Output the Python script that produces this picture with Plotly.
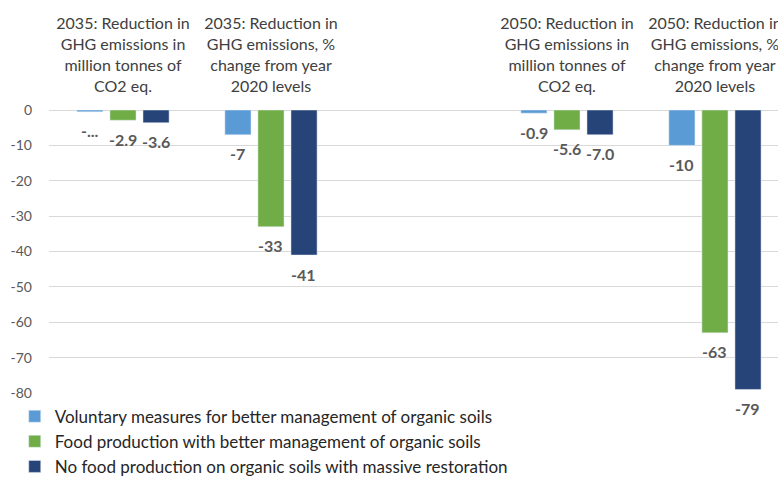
import plotly.graph_objects as go

categories = [
    "2035: Reduction in<br>GHG emissions in<br>million tonnes of<br>CO2 eq.",
    "2035: Reduction in<br>GHG emissions, %<br>change from year<br>2020 levels",
    " ",
    "2050: Reduction in<br>GHG emissions in<br>million tonnes of<br>CO2 eq.",
    "2050: Reduction in<br>GHG emissions, %<br>change from year<br>2020 levels",
]

series_names = [
    "Voluntary measures for better management of organic soils",
    "Food production with better management of organic soils",
    "No food production on organic soils with massive restoration",
]
voluntary = [-0.5, -7, None, -0.9, -10]
food_better = [-2.9, -33, None, -5.6, -63]
no_food = [-3.6, -41, None, -7.0, -79]

voluntary_labels = ["-...", "-7", "", "-0.9", "-10"]
food_better_labels = ["-2.9", "-33", "", "-5.6", "-63"]
no_food_labels = ["-3.6", "-41", "", "-7.0", "-79"]

y_ticks = [0, -10, -20, -30, -40, -50, -60, -70, -80]

colors = ["#5B9BD5", "#70AD47", "#264478"]
FONT = "Lato"

fig = go.Figure()
all_vals = [voluntary, food_better, no_food]
all_labels = [voluntary_labels, food_better_labels, no_food_labels]
for name, vals, col in zip(series_names, all_vals, colors):
    fig.add_trace(go.Bar(x=categories, y=vals, name=name, marker_color=col))

# data labels placed just below each bar end
for si, (vals, labels) in enumerate(zip(all_vals, all_labels)):
    for cat, v, lab in zip(categories, vals, labels):
        if v is None or not lab:
            continue
        fig.add_annotation(
            x=cat, y=v, text=lab, showarrow=False,
            xshift=(si - 1) * 33, yshift=-19, yanchor="middle",
            font=dict(family=FONT, size=16, color="#595959", weight="bold"),
        )

fig.update_layout(
    width=778, height=478,
    margin=dict(l=49, r=0, t=110, b=85, autoexpand=False),
    paper_bgcolor="white", plot_bgcolor="white",
    barmode="group", bargap=0.33, bargroupgap=0.21,
    font=dict(family=FONT, color="#404040"),
    showlegend=True,
    legend=dict(
        orientation="v", x=-0.047, y=-0.02, xanchor="left", yanchor="top",
        font=dict(family=FONT, size=17, color="#262626"),
        itemwidth=30, bgcolor="rgba(0,0,0,0)",
    ),
)
fig.update_xaxes(
    side="top", type="category", range=[-0.5, 4.426],
    tickfont=dict(family=FONT, size=16, color="#404040"),
    showgrid=False, showline=False, ticks="", automargin=False,
    ticklabelstandoff=14,
)
fig.update_yaxes(
    range=[-80, 0], tickvals=y_ticks, ticktext=[str(v) for v in y_ticks],
    tickfont=dict(family=FONT, size=14, color="#595959"),
    showgrid=True, gridcolor="#D9D9D9", gridwidth=1,
    zeroline=True, zerolinecolor="#D9D9D9", zerolinewidth=1,
    ticks="", ticklabelstandoff=16, automargin=False,
)

fig.write_html(
    "out.html",
    config={"displayModeBar": False},
    post_script="document.body.style.margin='0';document.body.style.overflow='hidden';",
)
